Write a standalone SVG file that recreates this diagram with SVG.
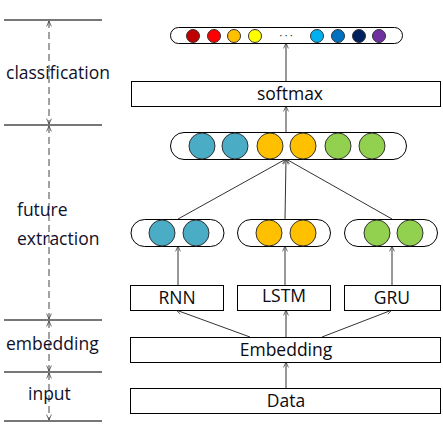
<svg xmlns="http://www.w3.org/2000/svg" width="443" height="424" viewBox="0 0 443 424">
<defs>
<marker id="ah" viewBox="0 0 10 10" refX="10" refY="5" markerWidth="6" markerHeight="6" orient="auto-start-reverse" markerUnits="userSpaceOnUse">
<path d="M1,1 L10,5 L1,9" fill="none" stroke="#333" stroke-width="1.2"/>
</marker>
</defs>
<style>
text{font-family:"Open Sans","Noto Sans","DejaVu Sans",sans-serif;font-size:17.5px;fill:#0a0a10}
.lbl{fill:#10102a}
.box{fill:#fff;stroke:#000;stroke-width:1}
.pill{fill:#fff;stroke:#000;stroke-width:1}
.sep{stroke:#777;stroke-width:2}
.dash{stroke:#444;stroke-width:1;stroke-dasharray:7 4;fill:none}
.con{stroke:#333;stroke-width:1;fill:none;marker-end:url(#ah)}
.c{stroke:#333;stroke-width:1}
</style>
<rect width="443" height="424" fill="#fff"/>
<g id="left-axis">
<line class="sep" x1="4" y1="20" x2="102" y2="20"/>
<line class="sep" x1="4" y1="125" x2="102" y2="125"/>
<line class="sep" x1="4" y1="320" x2="102" y2="320"/>
<line class="sep" x1="4" y1="372" x2="102" y2="372"/>
<line class="sep" x1="4" y1="421" x2="102" y2="421"/>
<line class="dash" x1="49" y1="21" x2="49" y2="124" marker-start="url(#ah)" marker-end="url(#ah)"/>
<line class="dash" x1="49" y1="126" x2="49" y2="319" marker-start="url(#ah)" marker-end="url(#ah)"/>
<line class="dash" x1="49" y1="321" x2="49" y2="371" marker-start="url(#ah)" marker-end="url(#ah)"/>
<line class="dash" x1="49" y1="373" x2="49" y2="420" marker-start="url(#ah)" marker-end="url(#ah)"/>
<text class="lbl" x="6" y="79">classification</text>
<text class="lbl" x="17" y="216">future</text>
<text class="lbl" x="17" y="245">extraction</text>
<text class="lbl" x="6" y="350">embedding</text>
<text class="lbl" x="28" y="400">input</text>
</g>
<g id="connectors">
<line class="con" x1="286" y1="388" x2="286" y2="362"/>
<line class="con" x1="250" y1="337" x2="176" y2="310"/>
<line class="con" x1="286" y1="337" x2="286" y2="310"/>
<line class="con" x1="322" y1="337" x2="392" y2="310"/>
<line class="con" x1="178" y1="285" x2="178" y2="246"/>
<line class="con" x1="285" y1="285" x2="285" y2="246"/>
<line class="con" x1="392" y1="285" x2="392" y2="246"/>
<line class="con" x1="178" y1="219" x2="286" y2="159"/>
<line class="con" x1="285" y1="219" x2="286" y2="159"/>
<line class="con" x1="392" y1="219" x2="286" y2="159"/>
<line class="con" x1="286" y1="132" x2="286" y2="106"/>
<line class="con" x1="286" y1="81" x2="286" y2="43"/>
</g>
<g id="data">
<rect class="box" x="130.5" y="388.5" width="310" height="25"/>
<text x="286" y="407" text-anchor="middle">Data</text>
</g>
<g id="embedding">
<rect class="box" x="130.5" y="337.5" width="310" height="25"/>
<text x="286" y="356" text-anchor="middle">Embedding</text>
</g>
<g id="rnn">
<rect class="box" x="130.5" y="285.5" width="93" height="25"/>
<text x="177" y="304" text-anchor="middle">RNN</text>
</g>
<g id="lstm">
<rect class="box" x="237.5" y="285.5" width="93" height="25"/>
<text x="284" y="302" text-anchor="middle">LSTM</text>
</g>
<g id="gru">
<rect class="box" x="344.5" y="285.5" width="96" height="25"/>
<text x="392" y="304" text-anchor="middle">GRU</text>
</g>
<g id="rnn-out">
<rect class="pill" x="131" y="219.5" width="93" height="27" rx="13.5"/>
<circle class="c" cx="162" cy="233" r="13" fill="#4bacc6"/>
<circle class="c" cx="196" cy="233" r="13" fill="#4bacc6"/>
</g>
<g id="lstm-out">
<rect class="pill" x="237.5" y="219.5" width="93" height="27" rx="13.5"/>
<circle class="c" cx="269" cy="233" r="13" fill="#ffc000"/>
<circle class="c" cx="303" cy="233" r="13" fill="#ffc000"/>
</g>
<g id="gru-out">
<rect class="pill" x="344.5" y="219.5" width="93" height="27" rx="13.5"/>
<circle class="c" cx="377" cy="233" r="13" fill="#92d050"/>
<circle class="c" cx="410" cy="233" r="13" fill="#92d050"/>
</g>
<g id="features">
<rect class="pill" x="170.5" y="132.5" width="236" height="27" rx="13.5"/>
<circle class="c" cx="202" cy="146" r="13" fill="#4bacc6"/>
<circle class="c" cx="235" cy="146" r="13" fill="#4bacc6"/>
<circle class="c" cx="270" cy="146" r="13" fill="#ffc000"/>
<circle class="c" cx="303" cy="146" r="13" fill="#ffc000"/>
<circle class="c" cx="338" cy="146" r="13" fill="#92d050"/>
<circle class="c" cx="372" cy="146" r="13" fill="#92d050"/>
</g>
<g id="softmax">
<rect class="box" x="131.5" y="81.5" width="309" height="25"/>
<text x="290" y="100" text-anchor="middle">softmax</text>
</g>
<g id="output">
<rect class="pill" x="170.5" y="27.5" width="232" height="16" rx="8"/>
<circle class="c" cx="193" cy="36" r="6.5" fill="#c00000"/>
<circle class="c" cx="214" cy="36" r="6.5" fill="#ff0000"/>
<circle class="c" cx="234" cy="36" r="6.5" fill="#ffc000"/>
<circle class="c" cx="255" cy="36" r="6.5" fill="#ffff00"/>
<text x="286" y="39" text-anchor="middle" style="font-size:10px">· · ·</text>
<circle class="c" cx="317" cy="36" r="6.5" fill="#00b0f0"/>
<circle class="c" cx="338" cy="36" r="6.5" fill="#0070c0"/>
<circle class="c" cx="359" cy="36" r="6.5" fill="#002060"/>
<circle class="c" cx="379" cy="36" r="6.5" fill="#7030a0"/>
</g>
</svg>
